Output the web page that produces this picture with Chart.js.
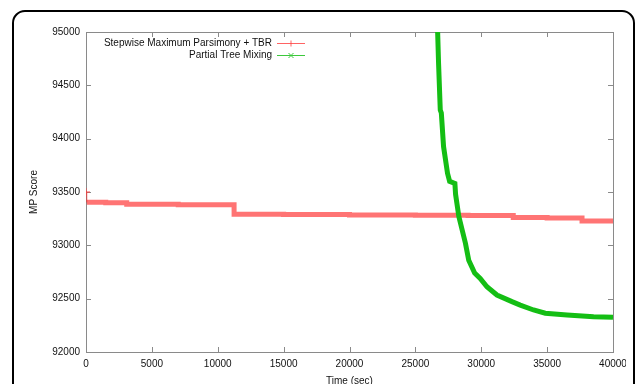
<!DOCTYPE html>
<html>
<head>
<meta charset="utf-8">
<script src="https://cdn.jsdelivr.net/npm/chart.js@4.4.1/dist/chart.umd.min.js"></script>
<style>
  html, body { margin: 0; padding: 0; background: #fff; overflow: hidden; }
  #wrap { position: relative; width: 637px; height: 384px; overflow: hidden; }
  #clip { position: absolute; left: 0; top: 0; width: 626px; height: 396px; overflow: hidden; }
  #frame {
    position: absolute; left: 12px; top: 10px; width: 619px; height: 420px;
    border: 2.5px solid #000; border-radius: 13px; pointer-events: none;
  }
</style>
</head>
<body>
<div id="wrap">
  <div id="clip"><canvas id="myChart" width="640" height="396"></canvas></div>
  <div id="frame"></div>
</div>
<script>
const seriesLabels = ["Stepwise Maximum Parsimony + TBR", "Partial Tree Mixing"];

// stepwise MP + TBR (time in sec, MP score)
const redTime = [0, 60, 1500, 3090, 7000, 11240, 15000, 20000, 25000, 29000, 32430, 35000, 37650, 40000];
const redScore = [93500, 93403, 93400, 93385, 93380, 93291, 93288, 93285, 93282, 93279, 93260, 93257, 93227, 93225];

// partial tree mixing
const greenTime = [26690, 26760, 26890, 26970, 27140, 27440, 27600, 28000, 28050, 28300, 28800, 29050, 29500, 29920, 30430, 31190, 32330, 32960, 33970, 34860, 36510, 38530, 40000];
const greenScore = [95000, 94707, 94269, 94240, 93925, 93675, 93600, 93580, 93480, 93270, 93020, 92860, 92740, 92690, 92612, 92534, 92472, 92440, 92394, 92363, 92347, 92331, 92325];

const xTicks = [0, 5000, 10000, 15000, 20000, 25000, 30000, 35000, 40000];
const yTicks = [92000, 92500, 93000, 93500, 94000, 94500, 95000];

const redColor = "rgba(255,30,30,0.62)";
const greenColor = "rgb(20,190,20)";
const axisGray = "#8a8a8a";
const fontFam = "'Liberation Sans', Arial, sans-serif";

const boxAndTicks = {
	id: "boxAndTicks",
	beforeDatasetsDraw(chart) {
		const { ctx, chartArea: a, scales } = chart;
		ctx.save();
		ctx.strokeStyle = axisGray;
		ctx.lineWidth = 1;
		ctx.strokeRect(a.left + 0.5, a.top + 0.5, a.right - a.left, a.bottom - a.top);
		ctx.beginPath();
		xTicks.forEach((t) => {
			const x = Math.round(scales.x.getPixelForValue(t)) + 0.5;
			ctx.moveTo(x, a.bottom);
			ctx.lineTo(x, a.bottom - 5);
			ctx.moveTo(x, a.top);
			ctx.lineTo(x, a.top + 5);
		});
		yTicks.forEach((t) => {
			const y = Math.round(scales.y.getPixelForValue(t)) + 0.5;
			ctx.moveTo(a.left, y);
			ctx.lineTo(a.left + 5, y);
			ctx.moveTo(a.right, y);
			ctx.lineTo(a.right - 5, y);
		});
		ctx.stroke();
		ctx.restore();
	},
	afterDraw(chart) {
		const { ctx } = chart;
		ctx.save();
		ctx.font = "10px " + fontFam;
		ctx.textAlign = "right";
		ctx.textBaseline = "middle";
		const markers = ["plus", "x"];
		const lineColors = ["rgba(255,60,60,0.8)", "rgb(60,200,60)"];
		[43.5, 55.5].forEach((y, i) => {
			ctx.fillStyle = "#111";
			ctx.fillText(seriesLabels[i], 272, y);
			ctx.strokeStyle = lineColors[i];
			ctx.lineWidth = 1;
			ctx.beginPath();
			ctx.moveTo(277, y);
			ctx.lineTo(305, y);
			const cx = 291;
			if (markers[i] === "plus") {
				ctx.moveTo(cx, y - 3);
				ctx.lineTo(cx, y + 3);
			} else {
				ctx.moveTo(cx - 2.5, y - 2.5);
				ctx.lineTo(cx + 2.5, y + 2.5);
				ctx.moveTo(cx - 2.5, y + 2.5);
				ctx.lineTo(cx + 2.5, y - 2.5);
			}
			ctx.stroke();
		});
		ctx.restore();
	},
};

const data = {
	datasets: [
		{
			label: seriesLabels[0],
			data: redTime.map((t, i) => ({ x: t, y: redScore[i] })),
			borderColor: redColor,
			borderWidth: 5,
			stepped: true,
			pointStyle: "cross",
			pointRadius: (c) => (c.dataIndex === 0 ? 4 : 0),
			pointBorderColor: "rgba(255,60,60,0.9)",
			pointBorderWidth: 1,
			segment: {
				borderWidth: (c) => (c.p0DataIndex === 0 ? 1 : 5),
			},
			order: 1,
		},
		{
			label: seriesLabels[1],
			data: greenTime.map((t, i) => ({ x: t, y: greenScore[i] })),
			borderColor: greenColor,
			borderWidth: 5,
			pointRadius: 0,
			order: 0,
		},
	],
};

const config = {
	type: "line",
	data: data,
	options: {
		responsive: false,
		devicePixelRatio: 1,
		animation: false,
		layout: { padding: { left: 24, top: 32, right: 27, bottom: 5 } },
		plugins: { legend: false, tooltip: { enabled: false } },
		scales: {
			x: {
				type: "linear",
				min: 0,
				max: 40000,
				afterFit: (s) => { s.height = 39; s.paddingLeft = 0; s.paddingRight = 0; },
				afterBuildTicks: (s) => { s.ticks = xTicks.map((v) => ({ value: v })); },
				grid: { display: false, drawTicks: false },
				border: { display: false },
				ticks: {
					padding: 6,
					color: "#111",
					font: { family: fontFam, size: 10 },
					maxRotation: 0,
					autoSkip: false,
					callback: (v) => String(v),
				},
				title: {
					display: true,
					text: "Time (sec)",
					color: "#111",
					font: { family: fontFam, size: 10 },
					padding: { top: 4, bottom: 4 },
				},
			},
			y: {
				type: "linear",
				min: 92000,
				max: 95000,
				afterFit: (s) => { s.width = 62; s.paddingTop = 0; s.paddingBottom = 0; },
				afterBuildTicks: (s) => { s.ticks = yTicks.map((v) => ({ value: v })); },
				grid: { display: false, drawTicks: false },
				border: { display: false },
				ticks: {
					padding: 6,
					color: "#111",
					font: { family: fontFam, size: 10 },
					callback: (v) => String(v),
				},
				title: {
					display: true,
					text: "MP Score",
					color: "#111",
					font: { family: fontFam, size: 10 },
					padding: { top: 4, bottom: 4 },
				},
			},
		},
	},
	plugins: [boxAndTicks],
};

const myChart = new Chart(document.getElementById("myChart"), config);
</script>
</body>
</html>
